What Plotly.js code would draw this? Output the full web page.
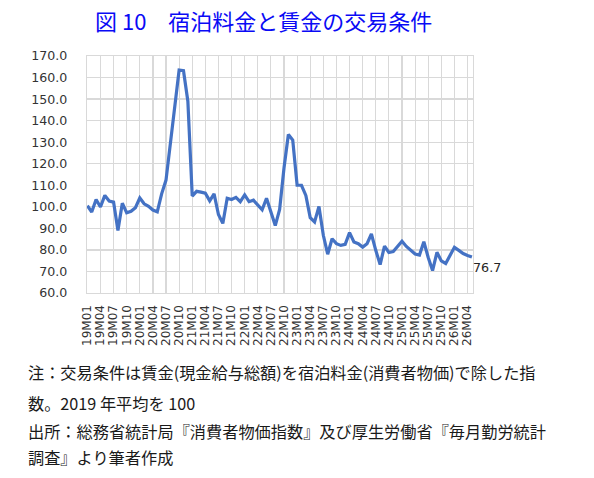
<!DOCTYPE html>
<html>
<head>
<meta charset="utf-8">
<script src="https://cdn.plot.ly/plotly-3.0.1.min.js"></script>
<style>
html,body{margin:0;padding:0;background:#fff;}
#chart{width:594px;height:478px;}
</style>
</head>
<body>
<div id="chart"></div>
<script>
// Month categories 19M01 .. 26M05
var categories = [
"19M01","19M02","19M03","19M04","19M05","19M06","19M07","19M08","19M09","19M10","19M11","19M12",
"20M01","20M02","20M03","20M04","20M05","20M06","20M07","20M08","20M09","20M10","20M11","20M12",
"21M01","21M02","21M03","21M04","21M05","21M06","21M07","21M08","21M09","21M10","21M11","21M12",
"22M01","22M02","22M03","22M04","22M05","22M06","22M07","22M08","22M09","22M10","22M11","22M12",
"23M01","23M02","23M03","23M04","23M05","23M06","23M07","23M08","23M09","23M10","23M11","23M12",
"24M01","24M02","24M03","24M04","24M05","24M06","24M07","24M08","24M09","24M10","24M11","24M12",
"25M01","25M02","25M03","25M04","25M05","25M06","25M07","25M08","25M09","25M10","25M11","25M12",
"26M01","26M02","26M03","26M04","26M05"
];

// Terms of trade (wage / lodging price), 2019 average = 100
var termsOfTrade = [
100.5, 97.6,103.4, 99.9,105.3,102.7,102.2, 89.0,101.7, 97.2, 97.9, 99.6,
104.1,101.4,100.2, 98.5, 97.7,106.0,112.4,130.0,147.0,163.5,163.2,149.0,
105.0,107.2,106.8,106.3,102.8,106.0, 96.4, 92.3,104.0,103.4,104.4,102.4,
105.5,102.4,103.1,101.1, 98.6,104.0, 97.2, 91.3, 98.8,118.0,133.6,131.0,
110.0,110.0,105.3, 95.0, 93.0,100.2, 86.8, 78.0, 85.2, 82.9, 82.1, 82.6,
 88.0, 83.7, 82.9, 81.3, 82.9, 87.4, 79.8, 73.2, 81.8, 78.8, 79.2, 81.9,
 84.0, 81.6, 79.6, 78.1, 77.6, 83.8, 76.5, 70.4, 78.9, 74.9, 73.7, 77.5,
 81.2, 79.8, 78.3, 77.4, 76.7
];

// Tick labels shown on the x axis (every 3 months)
var tickLabels = [
"19M01","19M04","19M07","19M10","20M01","20M04","20M07","20M10",
"21M01","21M04","21M07","21M10","22M01","22M04","22M07","22M10",
"23M01","23M04","23M07","23M10","24M01","24M04","24M07","24M10",
"25M01","25M04","25M07","25M10","26M01","26M04"
];

var titleText = "図 10\u3000宿泊料金と賃金の交易条件";
var noteLines = [
"注：交易条件は賃金(現金給与総額)を宿泊料金(消費者物価)で除した指",
"数。2019 年平均を 100",
"出所：総務省統計局『消費者物価指数』及び厚生労働省『毎月勤労統計",
"調査』より筆者作成"
];
var lastLabel = termsOfTrade[termsOfTrade.length - 1].toFixed(1);

// Layout geometry (pixels)
var W = 594, H = 478;
var L = 87, R = 472.7, T = 55.7, B = 293;
var pw = R - L, ph = B - T;
function px2x(px){ return (px - L) / pw; }
function py2y(py){ return (B - py) / ph; }

var noteY = [372, 403, 431, 457];
var annotations = noteLines.map(function(t, k){
  return {
    xref: "paper", yref: "paper",
    x: px2x(26.5), y: py2y(noteY[k]),
    xanchor: "left", yanchor: "middle",
    text: t, showarrow: false,
    font: {family: "Noto Sans CJK JP", size: 16.2, color: "#1a1a1a"}
  };
});
annotations.push({
  x: categories[categories.length - 1], y: termsOfTrade[termsOfTrade.length - 1],
  xref: "x", yref: "y",
  xanchor: "left", yanchor: "middle", xshift: -1, yshift: -10.5,
  text: lastLabel, showarrow: false,
  font: {family: "DejaVu Sans", size: 12.7, color: "#262626"}
});

var trace = {
  x: categories,
  y: termsOfTrade,
  type: "scatter",
  mode: "lines",
  line: {color: "#4472C4", width: 3.2},
  hoverinfo: "x+y"
};

var layout = {
  width: W, height: H,
  margin: {l: L, r: W - R, t: T, b: H - B, pad: 0},
  paper_bgcolor: "#ffffff",
  plot_bgcolor: "#ffffff",
  showlegend: false,
  title: {
    text: titleText,
    xref: "container", yref: "container",
    x: 95 / W, xanchor: "left",
    y: 1 - 22.5 / H, yanchor: "middle",
    font: {family: "Noto Sans CJK JP", size: 22, color: "#0a0af5"}
  },
  xaxis: {
    type: "category",
    range: [-0.08, categories.length - 1 + 0.25],
    tickmode: "array",
    tickvals: tickLabels,
    ticktext: tickLabels,
    tickangle: -90,
    ticks: "",
    ticklabelstandoff: 6,
    tickfont: {family: "DejaVu Sans", size: 12, color: "#333333"},
    showgrid: true,
    gridcolor: "#d9d9d9",
    gridwidth: 1.2,
    showline: true,
    linecolor: "#d9d9d9",
    linewidth: 1.2,
    mirror: true,
    zeroline: false,
    fixedrange: true
  },
  yaxis: {
    range: [60, 170],
    tickmode: "linear",
    tick0: 60,
    dtick: 10,
    tickformat: ".1f",
    ticks: "",
    ticklabelstandoff: 16,
    tickfont: {family: "DejaVu Sans", size: 12.6, color: "#333333"},
    showgrid: true,
    gridcolor: "#d9d9d9",
    gridwidth: 1.2,
    showline: true,
    linecolor: "#d9d9d9",
    linewidth: 1.2,
    mirror: true,
    zeroline: false,
    fixedrange: true
  },
  annotations: annotations
};

Plotly.newPlot("chart", [trace], layout, {displayModeBar: false, staticPlot: true});
</script>
</body>
</html>
